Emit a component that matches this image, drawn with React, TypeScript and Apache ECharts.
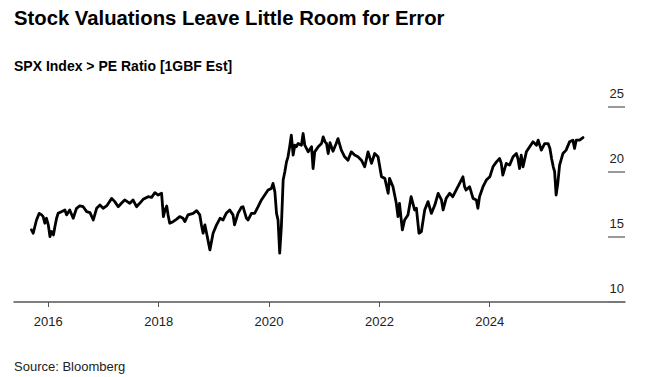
import React, { useEffect, useRef } from "react";
import * as echarts from "echarts";

const titleText = "Stock Valuations Leave Little Room for Error";
const subtitleText = "SPX Index > PE Ratio [1GBF Est]";
const sourceText = "Source: Bloomberg";

const yearTicks = [2016, 2018, 2020, 2022, 2024];
const yTicks = [10, 15, 20, 25];

const dates = [
  "2015-09-12", "2015-09-23", "2015-10-15", "2015-11-02", "2015-11-18", "2015-11-28", "2015-12-09", "2015-12-20",
  "2016-01-01", "2016-01-12", "2016-01-23", "2016-02-04", "2016-02-14", "2016-02-25", "2016-03-06", "2016-03-28",
  "2016-04-20", "2016-05-01", "2016-05-22", "2016-06-14", "2016-07-06", "2016-07-27", "2016-08-19", "2016-09-11",
  "2016-10-03", "2016-10-25", "2016-11-16", "2016-12-08", "2016-12-29",
  "2017-01-21", "2017-02-24", "2017-03-16", "2017-04-08", "2017-04-29", "2017-05-21", "2017-06-24", "2017-07-15",
  "2017-08-07", "2017-08-28", "2017-09-20", "2017-10-23", "2017-11-15", "2017-12-07", "2017-12-28",
  "2018-01-20", "2018-02-01", "2018-02-12", "2018-02-23", "2018-03-04", "2018-03-15", "2018-04-06", "2018-04-28",
  "2018-05-20", "2018-06-11", "2018-06-23", "2018-07-14", "2018-08-17", "2018-09-09", "2018-09-30", "2018-10-11",
  "2018-10-22", "2018-11-03", "2018-11-14", "2018-12-06", "2018-12-27",
  "2019-01-19", "2019-02-11", "2019-03-03", "2019-03-24", "2019-04-16", "2019-05-08", "2019-05-18", "2019-06-10",
  "2019-07-02", "2019-07-13", "2019-08-05", "2019-08-16", "2019-09-07", "2019-09-28", "2019-10-21", "2019-11-12",
  "2019-12-04", "2019-12-26",
  "2020-01-17", "2020-01-28", "2020-02-09", "2020-02-20", "2020-03-01", "2020-03-12", "2020-03-23", "2020-04-04",
  "2020-04-15", "2020-04-26", "2020-05-06", "2020-05-17", "2020-05-28", "2020-06-09", "2020-06-20", "2020-06-30",
  "2020-07-12", "2020-08-03", "2020-08-14", "2020-08-25", "2020-09-17", "2020-10-09", "2020-10-19", "2020-10-30",
  "2020-11-22", "2020-12-14", "2020-12-25",
  "2021-01-06", "2021-01-16", "2021-01-27", "2021-02-08", "2021-02-28", "2021-03-21", "2021-04-02", "2021-04-24",
  "2021-05-16", "2021-06-07", "2021-06-29", "2021-07-21", "2021-08-12", "2021-09-04", "2021-09-26", "2021-10-18",
  "2021-11-10", "2021-12-01", "2021-12-23",
  "2022-01-15", "2022-02-06", "2022-02-28", "2022-03-09", "2022-04-01", "2022-04-23", "2022-05-04", "2022-05-14",
  "2022-06-02", "2022-06-17", "2022-07-09", "2022-07-30", "2022-08-22", "2022-09-03", "2022-09-20", "2022-10-06",
  "2022-10-28", "2022-11-19", "2022-12-11",
  "2023-01-03", "2023-01-25", "2023-02-16", "2023-02-27", "2023-03-19", "2023-04-11", "2023-05-02", "2023-05-24",
  "2023-06-16", "2023-07-08", "2023-07-19", "2023-07-29", "2023-08-21", "2023-09-13", "2023-10-05", "2023-10-15",
  "2023-10-26", "2023-11-18", "2023-12-10",
  "2024-01-02", "2024-01-23", "2024-02-15", "2024-03-07", "2024-03-18", "2024-03-28", "2024-04-20", "2024-05-12",
  "2024-06-04", "2024-06-26", "2024-07-06", "2024-07-17", "2024-07-28", "2024-08-09", "2024-08-31", "2024-09-22",
  "2024-10-14", "2024-11-06", "2024-11-17", "2024-12-08", "2024-12-30",
  "2025-01-22", "2025-02-03", "2025-02-14", "2025-02-25", "2025-03-06", "2025-03-16", "2025-03-27", "2025-04-08",
  "2025-04-30", "2025-05-11", "2025-05-21", "2025-06-13", "2025-07-05", "2025-07-16", "2025-07-27", "2025-08-18",
  "2025-09-10",
];

const peValues = [
  15.55, 15.29, 16.31, 16.82, 16.7, 16.57, 16.06, 16.44,
  15.93, 15.03, 15.42, 15.16, 15.8, 16.44, 16.82, 16.95,
  17.08, 16.7, 17.08, 16.44, 17.21, 17.39, 17.33, 16.95,
  16.87, 16.31, 17.21, 17.46, 17.21,
  17.39, 17.97, 17.72, 17.33, 17.59, 17.85, 17.59, 17.85,
  17.33, 17.59, 17.9, 18.1, 18.05, 18.41, 18.23,
  18.36, 16.57, 17.08, 17.39, 16.7, 16.06, 16.18, 16.36,
  16.57, 16.44, 16.18, 16.7, 16.82, 17.03, 16.7, 15.93,
  15.29, 15.93, 15.29, 14.01, 15.29,
  15.93, 16.44, 16.31, 16.82, 17.08, 16.7, 15.93, 16.82,
  17.28, 17.33, 16.44, 16.31, 16.82, 16.82, 17.33, 17.85,
  18.23, 18.61,
  18.74, 19.12, 18.48, 16.82, 16.31, 13.76, 15.8, 19.38,
  20.02, 20.78, 21.17, 21.94, 22.83, 21.3, 22.06, 21.94,
  22.19, 22.06, 22.96, 22.06, 21.55, 21.94, 20.27, 21.55,
  21.94, 22.19, 22.7,
  22.32, 22.19, 21.42, 22.25, 21.6, 22.19, 22.57, 21.68,
  21.17, 20.91, 21.55, 21.3, 21.17, 20.91, 20.4, 21.55,
  20.66, 21.42, 21.17,
  19.63, 19.51, 18.36, 19.51, 18.87, 17.59, 16.57, 17.59,
  15.55, 16.31, 16.7, 18.1, 17.08, 17.21, 15.29, 15.42,
  17.08, 17.72, 16.82,
  17.46, 18.36, 17.85, 17.08, 17.97, 18.36, 18.1, 18.61,
  19.12, 19.63, 18.87, 18.61, 18.87, 17.97, 17.85, 17.21,
  18.1, 18.87, 19.38,
  19.63, 20.4, 20.78, 21.04, 20.66, 19.76, 20.66, 20.53,
  21.17, 21.42, 21.04, 20.27, 21.3, 20.4, 21.55, 21.94,
  22.32, 22.06, 22.45, 21.68, 22.19,
  22.19, 21.81, 21.04, 20.4, 20.02, 18.23, 19.12, 20.53,
  21.42, 21.55, 21.68, 22.32, 22.45, 21.81, 22.45, 22.45,
  22.65,
];

const FONT = "'Liberation Sans', Arial, Helvetica, sans-serif";

export default function App() {
  const ref = useRef<HTMLDivElement>(null);

  useEffect(() => {
    if (!ref.current) return;
    const chart = echarts.init(ref.current, undefined, { renderer: "svg" });
    const seriesData = dates.map((d, i) => [Date.parse(d + "T00:00:00Z"), peValues[i]]);
    const tickTimes = yearTicks.map((y) => Date.UTC(y, 0, 1));

    chart.setOption({
      animation: false,
      backgroundColor: "#ffffff",
      textStyle: { fontFamily: FONT },
      graphic: [
        {
          type: "text",
          left: 14,
          top: 8,
          style: {
            text: titleText,
            font: `bold 20.3px ${FONT}`,
            fill: "#000000",
          },
        },
        {
          type: "text",
          left: 14,
          top: 59,
          style: {
            text: subtitleText,
            font: `bold 14px ${FONT}`,
            fill: "#000000",
          },
        },
        {
          type: "text",
          left: 14,
          top: 360,
          style: {
            text: sourceText,
            font: `13px ${FONT}`,
            fill: "#222222",
          },
        },
      ],
      grid: { left: 14, right: 43, top: 107, bottom: 75, containLabel: false },
      xAxis: {
        type: "value",
        min: Date.UTC(2015, 4, 19),
        max: Date.UTC(2026, 5, 15),
        axisLine: { show: true, lineStyle: { color: "#555555", width: 1.5 } },
        axisTick: {
          show: true,
          length: 5,
          customValues: tickTimes,
          lineStyle: { color: "#555555", width: 1 },
        },
        axisLabel: {
          customValues: tickTimes,
          formatter: (v: number) => String(new Date(v).getUTCFullYear()),
          color: "#222222",
          fontSize: 13,
          fontFamily: FONT,
          margin: 13,
        },
        splitLine: { show: false },
      },
      yAxis: {
        type: "value",
        position: "right",
        min: 10,
        max: 25,
        interval: 5,
        axisLine: { show: false },
        axisTick: {
          show: true,
          inside: true,
          length: 17,
          lineStyle: { color: "#777777", width: 1.5 },
        },
        axisLabel: {
          inside: true,
          margin: 1,
          color: "#222222",
          fontSize: 13,
          fontFamily: FONT,
          verticalAlign: "bottom",
          padding: [0, 0, 7, 0],
          formatter: (v: number) => (yTicks.includes(v) ? String(v) : ""),
        },
        splitLine: { show: false },
      },
      series: [
        {
          type: "line",
          data: seriesData,
          showSymbol: false,
          symbol: "none",
          lineStyle: { color: "#000000", width: 2.8, join: "round", cap: "round" },
          z: 3,
        },
      ],
    });

    return () => chart.dispose();
  }, []);

  return (
    <div
      ref={ref}
      style={{ position: "fixed", left: 0, top: 0, width: 668, height: 377, background: "#fff" }}
    />
  );
}
